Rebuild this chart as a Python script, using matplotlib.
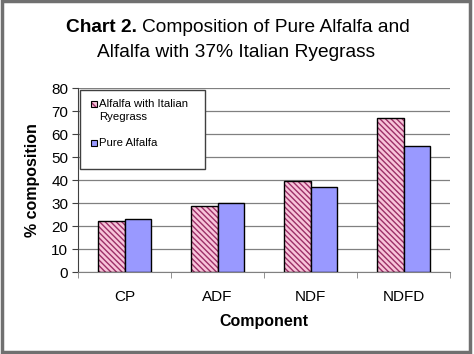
import numpy as np
import matplotlib
matplotlib.use("Agg")
import matplotlib.pyplot as plt
from matplotlib.patches import Rectangle

plt.rcParams['font.family'] = ['Liberation Sans', 'DejaVu Sans']
plt.rcParams['hatch.linewidth'] = 1.0

# data
components = ["CP", "ADF", "NDF", "NDFD"]
ryegrass_mix = [22.2, 28.5, 39.6, 66.8]
pure_alfalfa = [23.0, 29.9, 37.1, 54.8]
y_ticks = [0, 10, 20, 30, 40, 50, 60, 70, 80]
legend_lines = ["Alfalfa with Italian", "Ryegrass", "Pure Alfalfa"]

pink = '#f8c4da'
stripe = '#9c2f68'
blue = '#9999ff'
hatch = '\\' * 6

fig = plt.figure(figsize=(4.74, 3.54), dpi=100)
ax = fig.add_axes([0.1646, 0.2316, 0.7848, 0.5198])

x = np.arange(len(components))
w = 0.285

# hatched pink bars, then black outline on top
ax.bar(x - w / 2, ryegrass_mix, w, color=pink, edgecolor=stripe, hatch=hatch, linewidth=0, zorder=2)
ax.bar(x - w / 2, ryegrass_mix, w, fill=False, edgecolor='black', linewidth=1.0, zorder=3)
ax.bar(x + w / 2, pure_alfalfa, w, color=blue, edgecolor='black', linewidth=1.0, zorder=3)

ax.set_xlim(-0.5, len(components) - 0.5)
ax.set_ylim(0, 80)
ax.set_yticks(y_ticks)
ax.set_xticks(x)
ax.set_xticklabels(components, fontsize=11)
ax.set_xticks(np.arange(-0.5, len(components)), minor=True)
ax.tick_params(axis='x', which='major', length=0, pad=13)
ax.tick_params(axis='x', which='minor', length=4, color='#808080', direction='out')
ax.tick_params(axis='y', labelsize=11, length=4, color='#404040', pad=3)

ax.grid(axis='y', color='#808080', linewidth=0.9, zorder=0)
ax.set_axisbelow(True)
for s in ['top', 'right']:
    ax.spines[s].set_visible(False)
ax.spines['left'].set_color('#404040')
ax.spines['bottom'].set_color('#808080')

ax.set_xlabel("Component", fontsize=11.5, fontweight='bold', labelpad=7)
ax.set_ylabel("% composition", fontsize=11.5, fontweight='bold', labelpad=8)

# legend drawn by hand (Excel style: swatch beside first line)
ax.add_patch(Rectangle((0.005, 0.56), 0.337, 0.43, transform=ax.transAxes,
                       facecolor='white', edgecolor='#404040', linewidth=1.0, zorder=4))
ax.add_patch(Rectangle((0.035, 0.897), 0.016, 0.033, transform=ax.transAxes,
                       facecolor=pink, edgecolor=stripe, hatch='\\\\\\', linewidth=0, zorder=5))
ax.add_patch(Rectangle((0.035, 0.897), 0.016, 0.033, transform=ax.transAxes,
                       fill=False, edgecolor='black', linewidth=0.8, zorder=6))
ax.add_patch(Rectangle((0.035, 0.685), 0.016, 0.033, transform=ax.transAxes,
                       facecolor=blue, edgecolor='black', linewidth=0.8, zorder=5))
for txt, ty in zip(legend_lines, [0.913, 0.842, 0.701]):
    ax.text(0.0565, ty, txt, transform=ax.transAxes, fontsize=8.2,
            ha='left', va='center', zorder=6)

# title with bold prefix
fig.text(0.29, 0.921, "Chart 2.", fontsize=13.8, fontweight='bold', ha='right', va='center')
fig.text(0.299, 0.921, "Composition of Pure Alfalfa and", fontsize=13.8, ha='left', va='center')
fig.text(0.497, 0.853, "Alfalfa with 37% Italian Ryegrass", fontsize=13.8, ha='center', va='center')

# outer frame
fig.patches.append(Rectangle((0.004, 0.006), 0.988, 0.99, transform=fig.transFigure,
                             fill=False, edgecolor='#707070', linewidth=2.5))

fig.savefig("out.png", dpi=100)
